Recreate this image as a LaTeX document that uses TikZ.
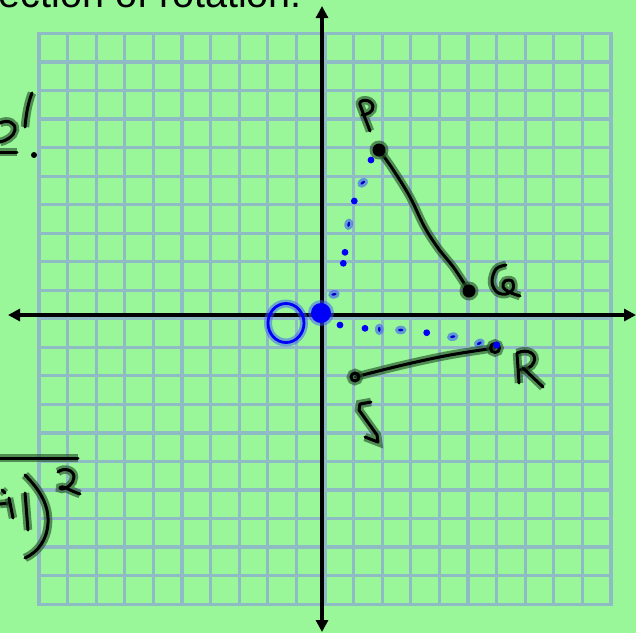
\documentclass[tikz,border=0pt]{standalone}
\usepackage{fontspec}
\setmainfont{Liberation Sans}
\usetikzlibrary{arrows.meta}
\definecolor{bg}{RGB}{153,247,153}
\definecolor{gridc}{RGB}{143,188,196}
\definecolor{halo}{RGB}{40,85,45}
\definecolor{pen}{RGB}{0,0,250}
\definecolor{bhalo}{RGB}{60,90,255}
\tikzset{
  hw/.style={line width=3pt, black, line cap=round, line join=round,
    preaction={draw=halo, draw opacity=0.65, line width=8.5pt}},
  bw/.style={line width=2.8pt, draw=pen, line cap=round,
    preaction={draw=bhalo, draw opacity=0.5, line width=8pt}},
  axisline/.style={line width=3.8pt, black,
    {Triangle[length=12pt,width=12pt]}-{Triangle[length=12pt,width=12pt]}},
  gridline/.style={gridc, line width=3.2pt, line cap=rect},
}
\begin{document}
\begin{tikzpicture}[x=1pt,y=-1pt]
\useasboundingbox (0,0) rectangle (636,633);
\clip (0,0) rectangle (636,633);
\fill[bg] (0,0) rectangle (636,633);
% grid
\foreach \i in {0,...,20}{
  \draw[gridline] ({39+28.6*\i},33.5) -- ({39+28.6*\i},604.1);
  \draw[gridline] (39,{33.5+28.53*\i}) -- (611,{33.5+28.53*\i});
}
% title
\node[anchor=base east, inner sep=0pt, font=\fontsize{39.5}{40}\selectfont] (title) at (302,7.5) {ection of rotation.};
% axes
\coordinate (ytop) at (322,6);
\coordinate (ybot) at (322,632);
\coordinate (xl) at (8,315);
\coordinate (xr) at (636,315);
\draw[axisline] (ybot) -- (ytop);
\draw[axisline] (xl) -- (xr);
% points
\coordinate (P) at (379,150);
\coordinate (Q) at (469,291);
\coordinate (R) at (495,348);
\coordinate (S) at (355,377);
% blue dots
\foreach \p in {(371,160),(354.3,201),(345,252.3),(343.3,263.3),(340,325),(365,328.3),(426.7,332.7)}
  \fill[pen] \p circle (3.4);
\foreach \p/\a in {(362.7,182.7)/35,(348.7,224.3)/80,(334,294.3)/10,(379.3,329.3)/90,(400.7,330)/0,(452.7,336.7)/10,(479.3,343.3)/30}{
  \fill[bhalo, opacity=0.6] \p ellipse[x radius=5.8, y radius=4.3, rotate=\a];
  \fill[pen!80!black] \p ellipse[x radius=2.6, y radius=1.3, rotate=\a];
}
% segments
\draw[hw] plot[smooth, tension=0.6] coordinates {(P) (392,168) (410,197) (424,226) (438,248) (454,268) (Q)};
\draw[hw] plot[smooth, tension=0.6] coordinates {(R) (450,355) (403,365) (S)};
\fill[halo, opacity=0.65] (P) circle (9.5);
\fill[black] (P) circle (6.5);
\fill[halo, opacity=0.65] (Q) circle (9.5);
\fill[black] (Q) circle (6.5);
\draw[hw] (R) circle (4.5);
\draw[hw] (S) circle (4);
\fill[pen] (496.7,345) circle (3.6);
% labels P Q R S
\draw[hw] (370,131) -- (360,105) .. controls (358,99) and (371,98) .. (373,106) .. controls (374,112) and (366,115) .. (362,115);
\draw[hw] plot[smooth, tension=0.6] coordinates {(506,265) (496,269) (492,282) (497,292) (506,294) (513,289) (512,281) (505,281) (503,287) (509,292) (520,296)};
\draw[hw] (517,353) -- (519,383);
\draw[hw] (517,353) .. controls (528,348) and (537,354) .. (534,362) .. controls (532,368) and (524,370) .. (520,370);
\draw[hw] (523,368) -- (543,387);
\draw[hw] (371,402) -- (360,404) -- (359,410) -- (377,435) -- (378,442) -- (365,437);
% origin marks
\draw[bw] (286,323) ellipse[x radius=18, y radius=19.5];
\fill[bhalo, opacity=0.5] (321,313) circle (13);
\fill[pen] (321,313) circle (10);
% left annotations
\draw[hw] (0,123) .. controls (8,119) and (16,123) .. (15,130) .. controls (14,137) and (5,141) .. (0,142);
\draw[hw] (0,152) -- (17,152);
\draw[hw] (32,93) .. controls (28,103) and (26,115) .. (25,127);
\fill[black] (34,155) circle (3);
\draw[hw] (0,458) -- (78,458);
\draw[hw] (2,490) -- (5,493);
\draw[hw] (0,504) -- (10,503);
\draw[hw] (9,498) -- (13,518);
\draw[hw] (25,493) .. controls (26,505) and (27,518) .. (28,530);
\draw[hw] (25,475) .. controls (40,490) and (49,505) .. (48,523) .. controls (47,540) and (38,552) .. (25,558);
\draw[hw] (58,472) .. controls (64,467) and (74,470) .. (74,477) .. controls (74,484) and (66,489) .. (62,489) .. controls (58,489) and (60,485) .. (66,488) .. controls (72,491) and (77,493) .. (80,494);
\end{tikzpicture}
\end{document}
